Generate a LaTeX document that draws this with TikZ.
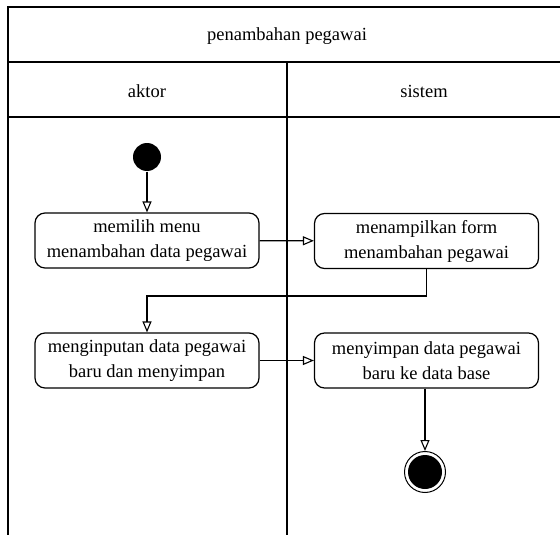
\documentclass[tikz,border=0pt]{standalone}
\usepackage{fontspec}
\setmainfont{Liberation Serif}
\usetikzlibrary{arrows.meta}
\begin{document}
\begin{tikzpicture}[x=1pt,y=-1pt,
  line width=1.2pt,
  act/.style={draw,rounded corners=10pt,minimum width=224pt,minimum height=55pt,align=center,font=\fontsize{18.5}{25}\selectfont,inner sep=0pt},
  lbl/.style={font=\fontsize{18.5}{25}\selectfont},
  flow/.style={-{Triangle[open,length=11pt,width=9pt]},line width=1.1pt}]
\useasboundingbox (0,0) rectangle (560,535);
% frame
\draw (565,7) -- (8,7) -- (8,535);
\draw (8,62) -- (565,62);
\draw (8,117) -- (565,117);
\draw (287,62) -- (287,535);
\node[lbl] (title) at (287,36) {penambahan pegawai};
\node[lbl] (aktor) at (147,91) {aktor};
\node[lbl] (sistem) at (424,91) {sistem};
% nodes
\node[circle,fill=black,minimum size=28pt,inner sep=0pt] (start) at (147,157) {};
\node[act] (a1) at (147,240.5) {memilih menu\\menambahan data pegawai};
\node[act] (s1) at (426.5,241) {menampilkan form\\menambahan pegawai};
\node[act] (a2) at (147,360.5) {menginputan data pegawai\\baru dan menyimpan};
\node[act] (s2) at (426.5,360.5) {menyimpan data pegawai\\baru ke data base};
\node[circle,draw,line width=1pt,minimum size=41pt,inner sep=0pt] (end) at (425,472) {};
\node[circle,fill=black,minimum size=34pt,inner sep=0pt] (endin) at (end.center) {};
% connectors
\draw[flow] (start) -- (a1);
\draw[flow] (a1) -- (s1);
\coordinate (c1) at (s1.south |- 0,296);
\coordinate (c2) at (a2.north |- 0,296);
\draw[flow] (s1.south) -- (c1) -- (c2) -- (a2.north);
\draw[flow] (a2) -- (s2);
\draw[flow] (s2.south -| end.north) -- (end.north);
\end{tikzpicture}
\end{document}
